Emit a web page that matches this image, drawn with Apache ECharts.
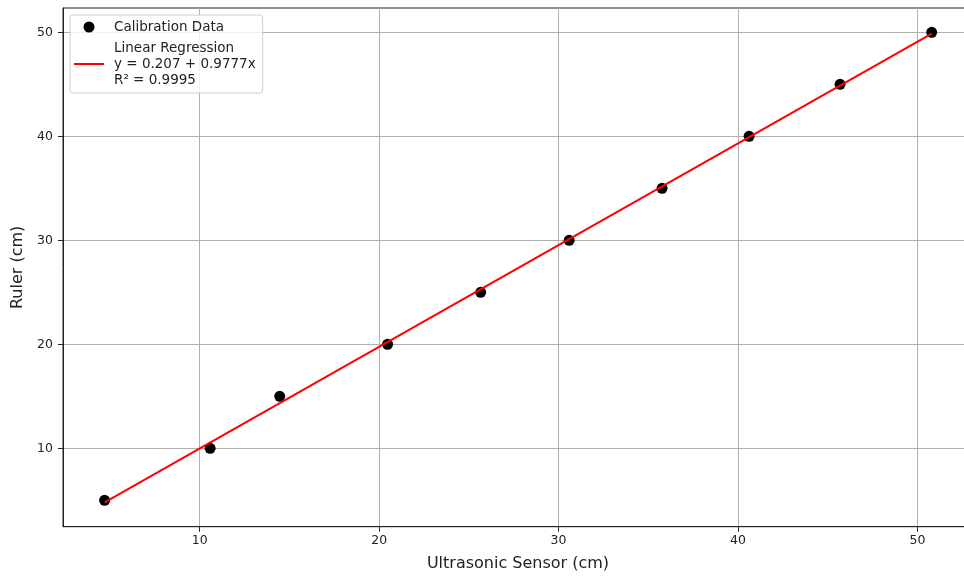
<!DOCTYPE html>
<html><head><meta charset="utf-8">
<script src="https://cdn.jsdelivr.net/npm/echarts@6/dist/echarts.min.js"></script>
<style>html,body{margin:0;padding:0;background:#fff}#c{width:964px;height:577px}</style>
</head><body><div id="c"></div>
<script>
// Data
const sensor = [4.70, 10.58, 14.46, 20.47, 25.66, 30.59, 35.77, 40.62, 45.69, 50.80];
const ruler  = [5, 10, 15, 20, 25, 30, 35, 40, 45, 50];
const fitX = [4.70, 50.80];
const fitY = [4.80, 49.87];
const xTicks = [10, 20, 30, 40, 50];
const yTicks = [10, 20, 30, 40, 50];
const seriesNames = ['Calibration Data', 'Linear Regression\ny = 0.207 + 0.9777x\nR\u00b2 = 0.9995'];
const xTitle = 'Ultrasonic Sensor (cm)';
const yTitle = 'Ruler (cm)';

const FONT = 'DejaVu Sans';
const chart = echarts.init(document.getElementById('c'), null, {renderer: 'canvas'});

function axisCommon(ticks) {
  return {
    type: 'value',
    axisLine: {show: true, onZero: false, lineStyle: {color: '#222', width: 1}},
    axisTick: {show: true, length: 5, inside: false, customValues: ticks, lineStyle: {color: '#222', width: 1}},
    axisLabel: {show: true, customValues: ticks, color: '#222', fontSize: 12.5, fontFamily: FONT},
    splitLine: {show: true, lineStyle: {color: '#b0b0b0', width: 1}},
    nameTextStyle: {color: '#222', fontSize: 16, fontFamily: FONT},
    nameLocation: 'middle'
  };
}

const xAxis = Object.assign(axisCommon(xTicks), {min: 2.38, max: 53.1, name: xTitle, nameGap: 29});
xAxis.axisLabel.margin = 8;
const yAxis = Object.assign(axisCommon(yTicks), {min: 2.46, max: 52.34, name: yTitle, nameGap: 34});
yAxis.axisLabel.margin = 10;

chart.setOption({
  animation: false,
  backgroundColor: '#fff',
  grid: {left: 63, top: 8, width: 910, height: 518.7, show: true, borderColor: '#222', borderWidth: 1,
         containLabel: false, outerBoundsMode: 'none'},
  xAxis: xAxis,
  yAxis: yAxis,
  legend: {
    orient: 'vertical', left: 70, top: 15,
    padding: [4, 7, 5, 3],
    itemWidth: 30, itemHeight: 11, itemGap: 5,
    backgroundColor: 'rgba(255,255,255,0.8)', borderColor: '#cccccc', borderWidth: 1, borderRadius: 3,
    textStyle: {color: '#222', fontSize: 13.5, fontFamily: FONT, lineHeight: 16, padding: [0, 0, 0, 5]},
    data: [
      {name: seriesNames[0], icon: 'circle', itemStyle: {color: '#000', opacity: 1}},
      {name: seriesNames[1], itemStyle: {color: 'rgba(0,0,0,0)', opacity: 0}}
    ]
  },
  series: [
    {
      name: seriesNames[0], type: 'scatter', symbol: 'circle', symbolSize: 11,
      itemStyle: {color: '#000', opacity: 1}, z: 3,
      data: sensor.map((x, i) => [x, ruler[i]])
    },
    {
      name: seriesNames[1], type: 'line', symbol: 'none', showSymbol: false,
      lineStyle: {color: '#ff0000', width: 2}, itemStyle: {color: '#ff0000'}, z: 4,
      data: fitX.map((x, i) => [x, fitY[i]])
    }
  ]
});
</script></body></html>
